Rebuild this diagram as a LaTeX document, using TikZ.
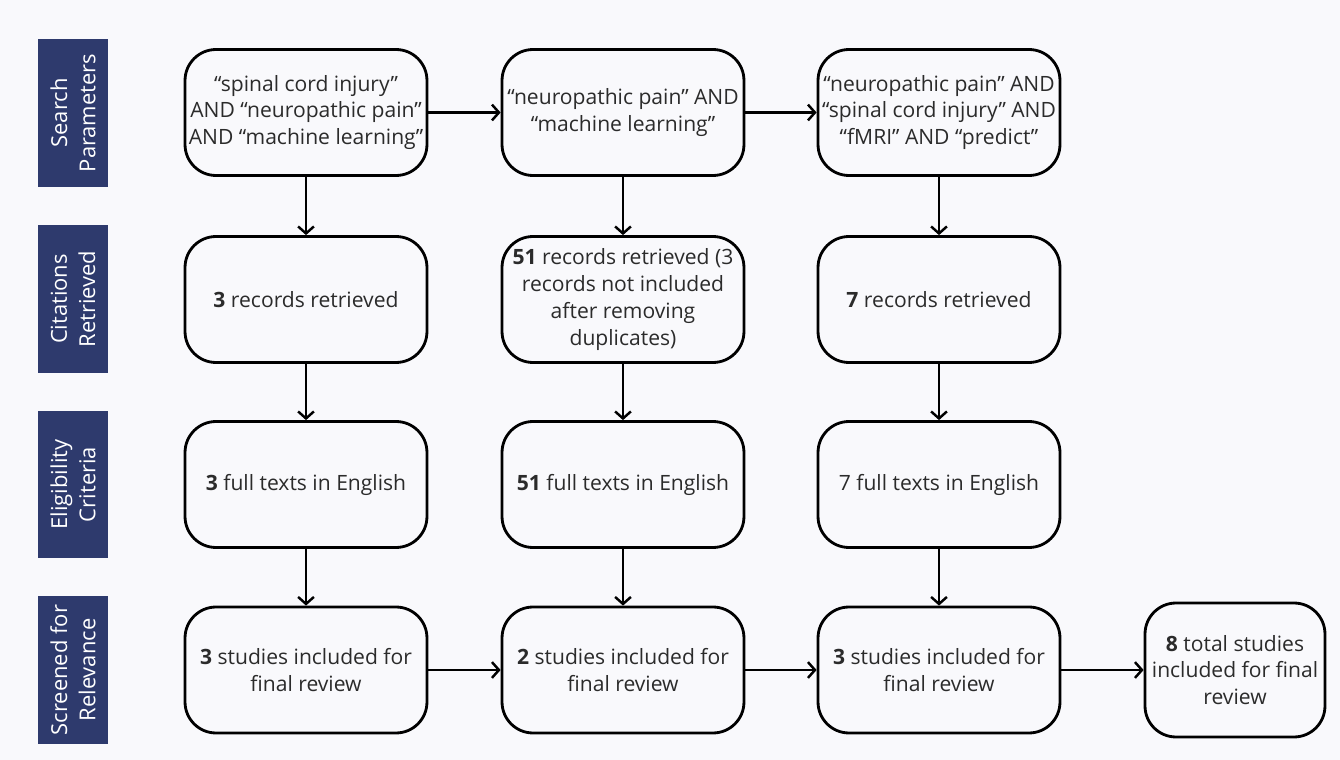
\documentclass[tikz,border=0pt]{standalone}
\usepackage{fontspec}
\setmainfont{Open Sans}
\usepackage{tikz}
\usetikzlibrary{arrows.meta}
\definecolor{navy}{HTML}{2E3A6D}
\definecolor{paper}{HTML}{F9F9FC}
\definecolor{ink}{HTML}{2B2B2B}

\tikzset{
    stage/.style={draw=black, line width=1.6pt, rounded corners=0.62cm, text=ink,
        minimum width=4.84cm, minimum height=2.52cm, align=center, inner sep=2pt,
        font=\fontsize{12}{15.3}\selectfont},
    phase/.style={fill=navy, text=white, rotate=90, align=center, inner sep=0pt,
        minimum width=2.96cm, minimum height=1.4cm,
        font=\fontsize{12.5}{16}\selectfont},
    flow/.style={line width=1.4pt, -{Straight Barb[length=4pt,width=9pt]}}
}

\begin{document}
\begin{tikzpicture}[x=0.02cm,y=-0.02cm]
    \fill[paper] (0,0) rectangle (1340,760);
    \useasboundingbox (0,0) rectangle (1340,760);

    % side labels
    \node[phase] (labsearch) at (73,113) {Search\\Parameters};
    \node[phase] (labcite)   at (73,299) {Citations\\Retrieved};
    \node[phase] (labelig)   at (73,484.5) {Eligibility\\Criteria};
    \node[phase] (labscreen) at (73,670) {Screened for\\Relevance};

    % search parameters
    \node[stage] (s1) at (306,112.5) {“spinal cord injury”\\AND “neuropathic pain”\\AND “machine learning”};
    \node[stage] (s2) at (623,112.5) {“neuropathic pain” AND\\“machine learning”};
    \node[stage] (s3) at (939,112.5) {“neuropathic pain” AND\\“spinal cord injury” AND\\“fMRI” AND “predict”};

    % citations retrieved
    \node[stage] (r1) at (306,299.5) {\textbf{3} records retrieved};
    \node[stage] (r2) at (623,299.5) {\textbf{51} records retrieved (3\\records not included\\after removing\\duplicates)};
    \node[stage] (r3) at (939,299.5) {\textbf{7} records retrieved};

    % eligibility
    \node[stage] (e1) at (306,484.5) {\textbf{3} full texts in English};
    \node[stage] (e2) at (623,484.5) {\textbf{51} full texts in English};
    \node[stage] (e3) at (939,484.5) {7 full texts in English};

    % screened
    \node[stage] (v1) at (306,670) {\textbf{3} studies included for\\final review};
    \node[stage] (v2) at (623,670) {\textbf{2} studies included for\\final review};
    \node[stage] (v3) at (939,670) {\textbf{3} studies included for\\final review};
    \node[stage, minimum width=3.6cm, minimum height=2.68cm] (tot) at (1235,670) {\textbf{8} total studies\\included for final\\review};

    % connectors
    \foreach \i in {1,2,3} {
        \draw[flow] (s\i) -- (r\i);
        \draw[flow] (r\i) -- (e\i);
        \draw[flow] (e\i) -- (v\i);
    }
    \draw[flow] (s1) -- (s2);
    \draw[flow] (s2) -- (s3);
    \draw[flow] (v1) -- (v2);
    \draw[flow] (v2) -- (v3);
    \draw[flow] (v3) -- (tot);
\end{tikzpicture}
\end{document}
